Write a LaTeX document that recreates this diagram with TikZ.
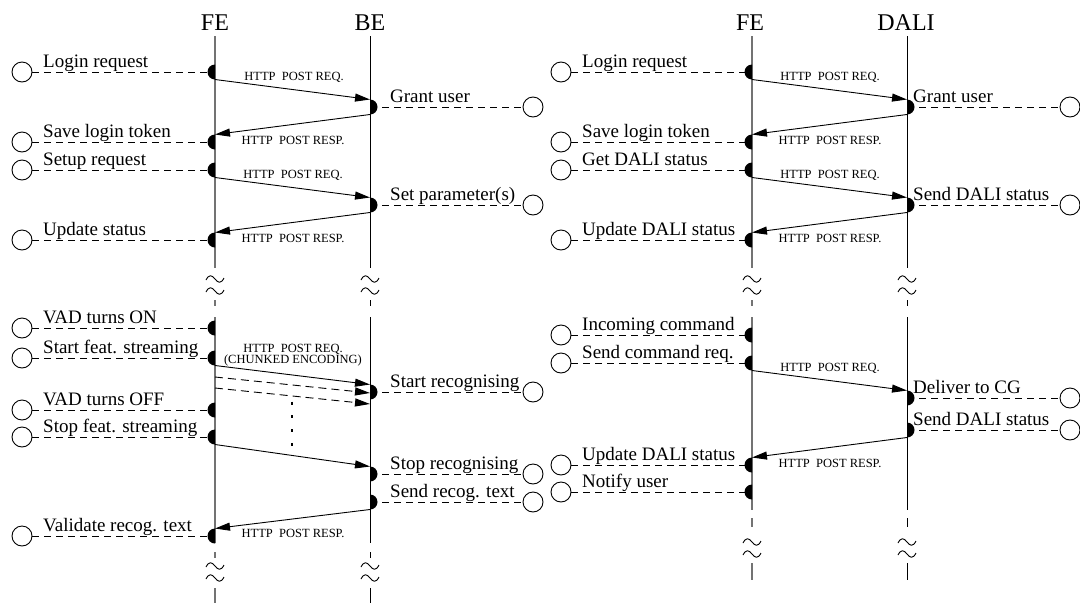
\documentclass[tikz,border=0pt]{standalone}
\usepackage{fontspec}
\setmainfont{Liberation Serif}
\usetikzlibrary{arrows.meta}

% two stacked tildes marking a gap in a lifeline
\newcommand\wavy[2]{%
  \foreach \dy in {-6,6} {
    \draw[line width=0.9pt]
      (#1-9,#2+\dy+1) .. controls (#1-6,#2+\dy-5) and (#1-3,#2+\dy-4) .. (#1,#2+\dy)
      .. controls (#1+3,#2+\dy+4) and (#1+6,#2+\dy+5) .. (#1+9,#2+\dy-1);
  }%
}

% event whose external party sits on the left: name, lifeline x, y, circle x, text
\newcommand\evleft[5]{%
  \coordinate (#1) at (#2,#3);
  \node[ext] (#1c) at (#4,#3) {};
  \draw[tie] (#1c.east) -- (#1);
  \fill (#2,#3-7.5) arc[start angle=90, end angle=270, radius=7.5pt] -- cycle;
  \node[evtext] (#1t) at (#4+21,#3-5) {#5};
}

% event whose external party sits on the right: name, lifeline x, y, circle x, text x, text
\newcommand\evright[6]{%
  \coordinate (#1) at (#2,#3);
  \node[ext] (#1c) at (#4,#3) {};
  \draw[tie] (#1) -- (#1c.west);
  \fill (#2,#3-7.5) arc[start angle=90, end angle=-90, radius=7.5pt] -- cycle;
  \node[evtext] (#1t) at (#5,#3-5) {#6};
}

\begin{document}
\begin{tikzpicture}[x=1pt,y=-1pt,
  lifeFE/.style={line width=1.2pt, draw=black!55},
  lifeBE/.style={line width=0.8pt, draw=black},
  msg/.style={line width=0.9pt, -{Triangle[length=15pt,width=8pt]}},
  chunk/.style={msg, dash pattern=on 8pt off 5pt},
  tie/.style={line width=0.9pt, dash pattern=on 7pt off 5pt},
  ext/.style={circle, draw, line width=0.9pt, minimum size=20pt, inner sep=0pt},
  evtext/.style={font=\fontsize{19}{22}\selectfont, anchor=base west, inner sep=0pt},
  proto/.style={font=\fontsize{12.5}{14}\selectfont, anchor=base, inner sep=0pt},
  head/.style={font=\fontsize{24}{27}\selectfont, anchor=base, inner sep=0pt}]
\useasboundingbox (0,0) rectangle (1080,603);

% ---------- headings ----------
\node[head] (hfeA) at (215,30) {FE};
\node[head] (hbe)  at (370,30) {BE};
\node[head] (hfeB) at (750,30) {FE};
\node[head] (hdali) at (906,30) {DALI};

% ---------- lifelines ----------
\foreach \x/\s in {215/lifeFE, 370/lifeBE} {
  \draw[\s] (\x,36) -- (\x,268);
  \draw[\s] (\x,300) -- (\x,306);
  \draw[\s] (\x,317) -- (\x,543);
  \draw[\s] (\x,552) -- (\x,558);
  \draw[\s] (\x,588) -- (\x,603);
  \wavy{\x}{285}
  \wavy{\x}{572}
}
\foreach \x/\s in {752/lifeFE, 907/lifeBE} {
  \draw[\s] (\x,36) -- (\x,268);
  \draw[\s] (\x,300) -- (\x,306);
  \draw[\s] (\x,317) -- (\x,510);
  \draw[\s] (\x,518) -- (\x,527);
  \draw[\s] (\x,563) -- (\x,580);
  \wavy{\x}{285}
  \wavy{\x}{548}
}

% ---------- FE / BE : login and setup ----------
\evleft{loginA}{215}{72}{22}{Login request}
\evright{grantA}{370}{107}{533}{390}{Grant user}
\evleft{saveA}{215}{142}{22}{Save login token}
\evleft{setup}{215}{170}{22}{Setup request}
\evright{setpar}{370}{205}{533}{390}{Set parameter(s)}
\evleft{updA}{215}{240}{22}{Update status}

\draw[msg] ([yshift=-7.5pt]loginA) -- ([yshift=7.5pt]grantA);
\draw[msg] ([yshift=-7.5pt]grantA) -- ([yshift=7.5pt]saveA);
\draw[msg] ([yshift=-7.5pt]setup) -- ([yshift=7.5pt]setpar);
\draw[msg] ([yshift=-7.5pt]setpar) -- ([yshift=7.5pt]updA);
\node[proto] (pA1) at (294,80)  {HTTP~~POST REQ.};
\node[proto] (pA2) at (293,144) {HTTP~~POST RESP.};
\node[proto] (pA3) at (293,178) {HTTP~~POST REQ.};
\node[proto] (pA4) at (293,242) {HTTP~~POST RESP.};

% ---------- FE / BE : recognition ----------
\evleft{vadon}{215}{328}{22}{VAD turns ON}
\evleft{startfs}{215}{358}{22}{Start feat. streaming}
\evright{startrec}{370}{392}{533}{390}{Start recognising}
\evleft{vadoff}{215}{410}{22}{VAD turns OFF}
\evleft{stopfs}{215}{437}{22}{Stop feat. streaming}
\evright{stoprec}{370}{474}{533}{390}{Stop recognising}
\evright{sendrec}{370}{502}{533}{390}{Send recog. text}
\evleft{valid}{215}{536}{22}{Validate recog. text}

\draw[msg] ([yshift=-7.5pt]startfs) -- ([yshift=7.5pt]startrec);
\node[proto] (pB1) at (293,352) {HTTP~~POST REQ.};
\node[proto] (pB2) at (293,363) {(CHUNKED ENCODING)};

\coordinate (chA) at (215,377);
\coordinate (chAe) at (370,393);
\coordinate (chB) at (215,388);
\coordinate (chBe) at (370,404);
\draw[chunk] (chA) -- (chAe);
\draw[chunk] (chB) -- (chBe);
\coordinate (dotsT) at (292,401.5);
\coordinate (dotsB) at (292,446);
\draw[line width=1.6pt, dash pattern=on 3pt off 10.8pt] (dotsT) -- (dotsB);

\draw[msg] ([yshift=-7.5pt]stopfs) -- ([yshift=7.5pt]stoprec);
\draw[msg] ([yshift=-7.5pt]sendrec) -- ([yshift=7.5pt]valid);
\node[proto] (pB3) at (293,537.5) {HTTP~~POST RESP.};

% ---------- FE / DALI : login and status ----------
\evleft{loginB}{752}{72}{561}{Login request}
\evright{grantB}{907}{107}{1070}{913}{Grant user}
\evleft{saveB}{752}{142}{561}{Save login token}
\evleft{getd}{752}{170}{561}{Get DALI status}
\evright{senddA}{907}{205}{1070}{913}{Send DALI status}
\evleft{upddA}{752}{240}{561}{Update DALI status}

\draw[msg] ([yshift=-7.5pt]loginB) -- ([yshift=7.5pt]grantB);
\draw[msg] ([yshift=-7.5pt]grantB) -- ([yshift=7.5pt]saveB);
\draw[msg] ([yshift=-7.5pt]getd) -- ([yshift=7.5pt]senddA);
\draw[msg] ([yshift=-7.5pt]senddA) -- ([yshift=7.5pt]upddA);
\node[proto] (pC1) at (830,80)  {HTTP~~POST REQ.};
\node[proto] (pC2) at (830,144) {HTTP~~POST RESP.};
\node[proto] (pC3) at (830,178) {HTTP~~POST REQ.};
\node[proto] (pC4) at (830,242) {HTTP~~POST RESP.};

% ---------- FE / DALI : commands ----------
\evleft{incmd}{752}{335}{561}{Incoming command}
\evleft{sendcmd}{752}{363}{561}{Send command req.}
\evright{deliver}{907}{398}{1070}{913}{Deliver to CG}
\evright{senddB}{907}{430}{1070}{913}{Send DALI status}
\evleft{upddB}{752}{465}{561}{Update DALI status}
\evleft{notify}{752}{492}{561}{Notify user}

\draw[msg] ([yshift=-7.5pt]sendcmd) -- ([yshift=7.5pt]deliver);
\draw[msg] ([yshift=-7.5pt]senddB) -- ([yshift=7.5pt]upddB);
\node[proto] (pD1) at (830,371) {HTTP~~POST REQ.};
\node[proto] (pD2) at (830,467) {HTTP~~POST RESP.};

\end{tikzpicture}
\end{document}
